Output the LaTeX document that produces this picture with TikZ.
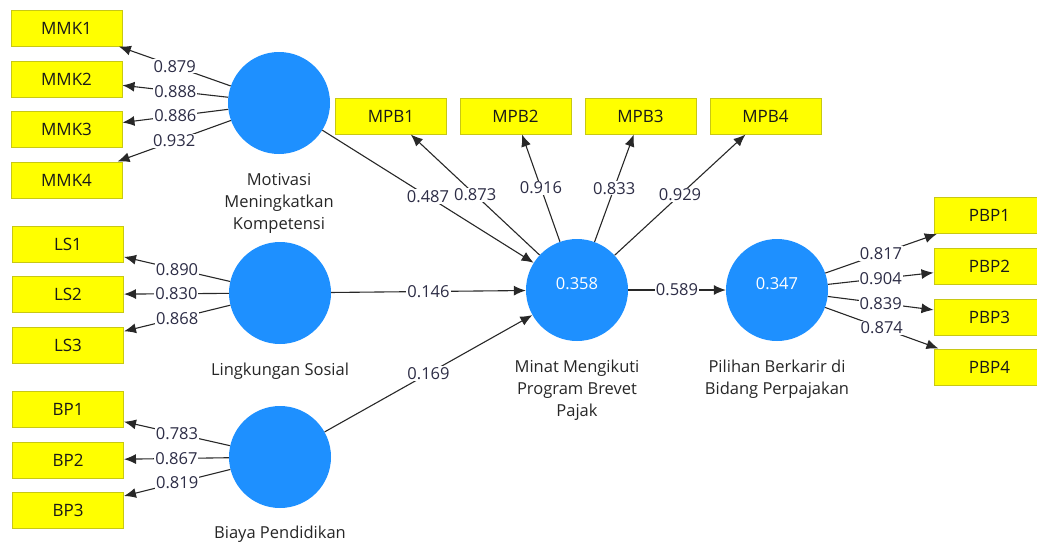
\documentclass[tikz,border=0pt]{standalone}
\usepackage{fontspec}
\setmainfont{Open Sans}
\usetikzlibrary{arrows.meta}
\definecolor{latblue}{RGB}{30,144,255}
\definecolor{indyel}{RGB}{255,255,0}
\definecolor{indborder}{RGB}{200,200,20}
\definecolor{numcol}{RGB}{45,45,70}
\definecolor{linecol}{RGB}{40,40,40}
\tikzset{
  ind/.style={rectangle, fill=indyel, draw=indborder, line width=1pt, minimum width=111pt, minimum height=36pt, inner sep=0pt, font=\fontsize{17}{20}\selectfont, text=black!90},
  lat/.style={circle, fill=latblue, minimum size=102pt, inner sep=0pt, font=\fontsize{16.5}{19}\selectfont, text=white},
  latname/.style={anchor=north, align=center, inner sep=0pt, font=\fontsize{16.5}{22}\selectfont, text=black!85},
  num/.style={fill=white, inner sep=1pt, font=\fontsize{16.5}{19}\selectfont, text=numcol},
  conn/.style={draw=linecol, line width=1.1pt, -{Latex[length=12pt,width=10pt]}},
}
\begin{document}
\begin{tikzpicture}[x=1pt,y=-1pt]
\useasboundingbox (0,0) rectangle (1037,546);
\clip (0,0) rectangle (1037,546);
% indicators
\node[ind] (mmk1) at (66.5,28) {MMK1};
\node[ind] (mmk2) at (66.5,79) {MMK2};
\node[ind] (mmk3) at (66.5,129.5) {MMK3};
\node[ind] (mmk4) at (66.5,180) {MMK4};
\node[ind] (ls1) at (68,244) {LS1};
\node[ind] (ls2) at (68,294.5) {LS2};
\node[ind] (ls3) at (68,345) {LS3};
\node[ind] (bp1) at (68,409) {BP1};
\node[ind] (bp2) at (68,460) {BP2};
\node[ind] (bp3) at (68,510) {BP3};
\node[ind] (mpb1) at (391,116) {MPB1};
\node[ind] (mpb2) at (515.5,116) {MPB2};
\node[ind] (mpb3) at (640.5,116) {MPB3};
\node[ind] (mpb4) at (765.5,116) {MPB4};
\node[ind] (pbp1) at (989.5,215.5) {PBP1};
\node[ind] (pbp2) at (989.5,266.5) {PBP2};
\node[ind] (pbp3) at (989.5,317) {PBP3};
\node[ind] (pbp4) at (989.5,367) {PBP4};
% latent variables
\node[lat] (mmk) at (279,103) {};
\node[lat] (ls) at (280,293) {};
\node[lat] (bp) at (280,457) {};
\node[lat] (mpb) at (577,290) {\raisebox{1pt}[0pt][0pt]{0.358}};
\node[lat] (pbp) at (777,290) {\raisebox{1pt}[0pt][0pt]{0.347}};
% names
\node[latname] (nmmk) at ([yshift=-19pt]mmk.south) {Motivasi\\Meningkatkan\\Kompetensi};
\node[latname] (nls) at ([yshift=-19pt]ls.south) {Lingkungan Sosial};
\node[latname] (nbp) at ([yshift=-18pt]bp.south) {Biaya Pendidikan};
\node[latname] (nmpb) at ([yshift=-19pt]mpb.south) {Minat Mengikuti\\Program Brevet\\Pajak};
\node[latname] (npbp) at ([yshift=-19pt]pbp.south) {Pilihan Berkarir di\\Bidang Perpajakan};
% loadings
\draw[conn] (mmk) -- node[num] {0.879} (mmk1);
\draw[conn] (mmk) -- node[num] {0.888} (mmk2);
\draw[conn] (mmk) -- node[num] {0.886} (mmk3);
\draw[conn] (mmk) -- node[num] {0.932} (mmk4);
\draw[conn] (ls) -- node[num] {0.890} (ls1);
\draw[conn] (ls) -- node[num] {0.830} (ls2);
\draw[conn] (ls) -- node[num] {0.868} (ls3);
\draw[conn] (bp) -- node[num] {0.783} (bp1);
\draw[conn] (bp) -- node[num] {0.867} (bp2);
\draw[conn] (bp) -- node[num] {0.819} (bp3);
\draw[conn] (mpb) -- node[num] {0.873} (mpb1);
\draw[conn] (mpb) -- node[num] {0.916} (mpb2);
\draw[conn] (mpb) -- node[num] {0.833} (mpb3);
\draw[conn] (mpb) -- node[num] {0.929} (mpb4);
\draw[conn] (pbp) -- node[num] {0.817} (pbp1);
\draw[conn] (pbp) -- node[num] {0.904} (pbp2);
\draw[conn] (pbp) -- node[num] {0.839} (pbp3);
\draw[conn] (pbp) -- node[num] {0.874} (pbp4);
% paths
\draw[conn] (mmk) -- node[num] {0.487} (mpb);
\draw[conn] (ls) -- node[num] {0.146} (mpb);
\draw[conn] (bp) -- node[num] {0.169} (mpb);
\draw[conn] (mpb) -- node[num] {0.589} (pbp);
\end{tikzpicture}
\end{document}
